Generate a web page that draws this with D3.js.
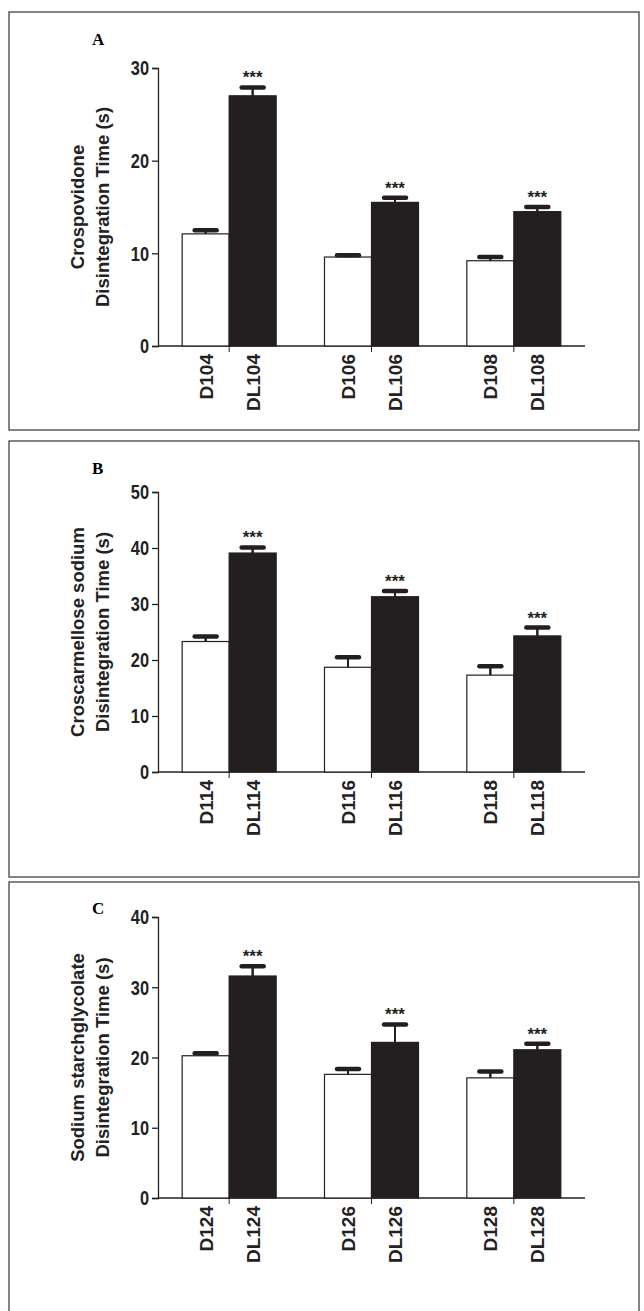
<!DOCTYPE html>
<html>
<head>
<meta charset="utf-8">
<script src="https://cdn.jsdelivr.net/npm/d3@7"></script>
<style>
body { margin: 0; background: #fff; }
text { font-family: "Liberation Sans", Arial, sans-serif; font-weight: bold; }
</style>
</head>
<body>
<div id="chart-area"></div>
<script>
// panel A - crospovidone
var groupsA = ["104", "106", "108"];
var meanDA = [12.1, 9.6, 9.2];
var sdDA = [0.4, 0.2, 0.4];
var meanDLA = [27.0, 15.5, 14.5];
var sdDLA = [0.9, 0.5, 0.5];

// panel B - croscarmellose sodium
var groupsB = ["114", "116", "118"];
var meanDB = [23.3, 18.7, 17.3];
var sdDB = [0.9, 1.8, 1.6];
var meanDLB = [39.1, 31.3, 24.3];
var sdDLB = [1.0, 1.0, 1.5];

// panel C - sodium starch glycolate
var groupsC = ["124", "126", "128"];
var meanDC = [20.25, 17.6, 17.1];
var sdDC = [0.35, 0.75, 0.9];
var meanDLC = [31.6, 22.15, 21.1];
var sdDLC = [1.4, 2.55, 0.85];

var panels = [
  {letter: "A", title: ["Crospovidone", "Disintegration Time (s)"], max: 30, ticks: [0,10,20,30],
   groups: groupsA, d: meanDA, dsd: sdDA, dl: meanDLA, dlsd: sdDLA,
   box: [12, 430], y0: 346, y1: 68, letterY: 45},
  {letter: "B", title: ["Croscarmellose sodium", "Disintegration Time (s)"], max: 50, ticks: [0,10,20,30,40,50],
   groups: groupsB, d: meanDB, dsd: sdDB, dl: meanDLB, dlsd: sdDLB,
   box: [441, 877], y0: 772, y1: 492, letterY: 474},
  {letter: "C", title: ["Sodium starchglycolate", "Disintegration Time (s)"], max: 40, ticks: [0,10,20,30,40],
   groups: groupsC, d: meanDC, dsd: sdDC, dl: meanDLC, dlsd: sdDLC,
   box: [882, 1330], y0: 1198, y1: 917, letterY: 914}
];

var svg = d3.select("#chart-area").append("svg")
    .attr("width", 644)
    .attr("height", 1311);

panels.forEach(function(p){
    var g = svg.append("g");

    g.append("rect")
        .attr("x", 9).attr("y", p.box[0])
        .attr("width", 630).attr("height", p.box[1] - p.box[0])
        .attr("fill", "none").attr("stroke", "#333").attr("stroke-width", 1.2);

    g.append("text")
        .attr("x", 92).attr("y", p.letterY)
        .style("font-family", "'Liberation Serif', 'Times New Roman', serif")
        .style("font-size", "17px")
        .text(p.letter);

    var y = d3.scaleLinear().domain([0, p.max]).range([p.y0, p.y1]);
    var x = d3.scaleBand().domain(p.groups).range([158, 585]).padding(0);
    var bw = 47;

    var yAxis = g.append("g")
        .attr("transform", "translate(158,0)")
        .call(d3.axisLeft(y).tickValues(p.ticks).tickSize(6).tickPadding(2));
    yAxis.selectAll("text").style("font-size", "20px").attr("fill", "#222")
        .attr("dy", "0.34em")
        .attr("transform", "scale(0.82,1)")
        .attr("x", -9 / 0.82);
    yAxis.selectAll("line, path").attr("stroke", "#222").attr("stroke-width", 1.3);

    var xAxis = g.append("g")
        .attr("transform", "translate(0," + p.y0 + ")")
        .call(d3.axisBottom(x).tickSize(6).tickFormat(""));
    xAxis.select("path").attr("d", "M158,0H585").attr("stroke", "#222").attr("stroke-width", 1.3);
    xAxis.selectAll("line").attr("stroke", "#222");

    var rows = p.groups.map(function(k, i){
        return [
            {label: "D" + k, x: x(k) + x.bandwidth() / 2 - bw, m: p.d[i], sd: p.dsd[i], fill: "#fff", star: false},
            {label: "DL" + k, x: x(k) + x.bandwidth() / 2, m: p.dl[i], sd: p.dlsd[i], fill: "#231f20", star: true}
        ];
    });
    var data = [].concat.apply([], rows);

    g.selectAll(".stem").data(data).enter().append("line")
        .attr("x1", function(d){ return d.x + bw / 2; })
        .attr("x2", function(d){ return d.x + bw / 2; })
        .attr("y1", function(d){ return y(d.m - d.sd); })
        .attr("y2", function(d){ return y(d.m + d.sd); })
        .attr("stroke", "#231f20").attr("stroke-width", 2);

    g.selectAll(".bar").data(data).enter().append("rect")
        .attr("x", function(d){ return d.x; })
        .attr("y", function(d){ return y(d.m); })
        .attr("width", bw)
        .attr("height", function(d){ return p.y0 - y(d.m); })
        .attr("fill", function(d){ return d.fill; })
        .attr("stroke", "#231f20").attr("stroke-width", 1.2);

    g.selectAll(".stemtop").data(data).enter().append("line")
        .attr("x1", function(d){ return d.x + bw / 2; })
        .attr("x2", function(d){ return d.x + bw / 2; })
        .attr("y1", function(d){ return y(d.m); })
        .attr("y2", function(d){ return y(d.m + d.sd); })
        .attr("stroke", "#231f20").attr("stroke-width", 2);

    g.selectAll(".cap").data(data).enter().append("line")
        .attr("x1", function(d){ return d.x + bw / 2 - 11; })
        .attr("x2", function(d){ return d.x + bw / 2 + 11; })
        .attr("y1", function(d){ return y(d.m + d.sd); })
        .attr("y2", function(d){ return y(d.m + d.sd); })
        .attr("stroke", "#231f20").attr("stroke-width", 4.5).attr("stroke-linecap", "round");

    g.selectAll(".star").data(data.filter(function(d){ return d.star; })).enter().append("text")
        .attr("x", function(d){ return d.x + bw / 2; })
        .attr("y", function(d){ return y(d.m + d.sd) - 4; })
        .attr("text-anchor", "middle")
        .style("font-size", "17px")
        .attr("fill", "#231f20")
        .text("***");

    g.selectAll(".xl").data(data).enter().append("text")
        .attr("transform", function(d){ return "translate(" + (d.x + bw / 2 + 7) + "," + (p.y0 + 8) + ") rotate(-90)"; })
        .attr("text-anchor", "end")
        .style("font-size", "19px")
        .attr("fill", "#222")
        .text(function(d){ return d.label; });

    var cy = (p.y0 + p.y1) / 2;
    p.title.forEach(function(t, i){
        g.append("text")
            .attr("transform", "translate(" + (84 + i * 25) + "," + cy + ") rotate(-90)")
            .attr("text-anchor", "middle")
            .style("font-size", "18.5px")
            .attr("fill", "#222")
            .text(t);
    });
});
</script>
</body>
</html>
